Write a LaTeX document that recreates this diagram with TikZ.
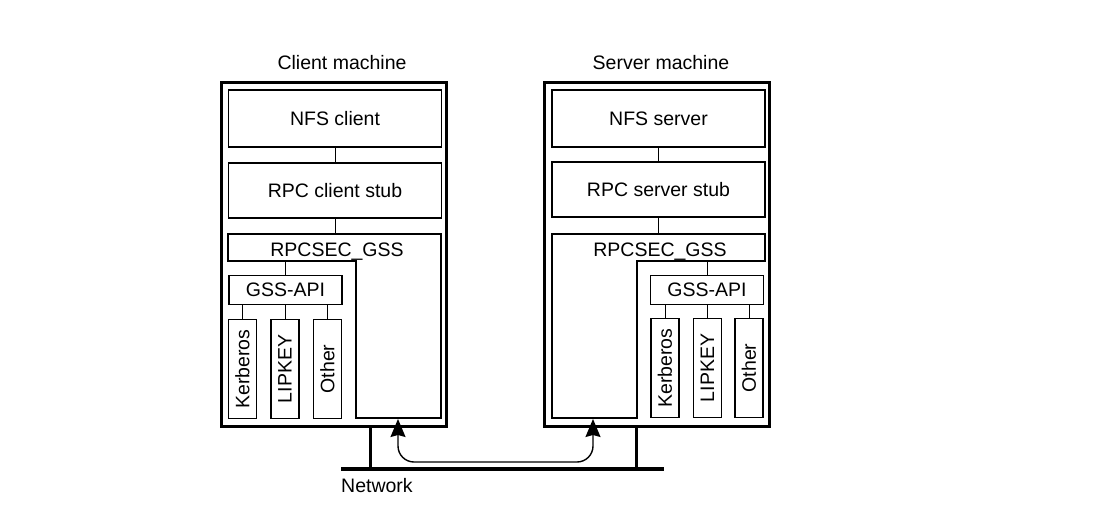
\documentclass[tikz,border=0pt]{standalone}
\usepackage{fontspec}
\setmainfont{Liberation Sans}
\usetikzlibrary{arrows.meta,calc}
\begin{document}
\begin{tikzpicture}[x=1pt,y=-1pt,
  every node/.style={font=\fontsize{19.5}{22}\selectfont, inner sep=0pt},
  outerbox/.style={draw, line width=2.8pt, minimum width=225pt, minimum height=344pt},
  layerbox/.style={draw, line width=1.2pt, minimum width=213pt},
  gssbox/.style={draw, line width=1.2pt, minimum width=113pt, minimum height=29pt},
  mechbox/.style={draw, line width=1.2pt, rotate=90, minimum width=99pt, minimum height=28pt},
  secshape/.style={draw, line width=1.2pt},
  link/.style={line width=1pt},
  netline/.style={line width=3.6pt},
  stubline/.style={line width=3pt},
  flow/.style={line width=1.4pt, rounded corners=16pt, {Stealth[length=18pt,width=15pt,inset=2pt]}-{Stealth[length=18pt,width=15pt,inset=2pt]}}
]
\useasboundingbox (0,0) rectangle (1114,525);

% ---------- Client machine ----------
\node (cmlabel) at (342,63) {Client machine};
\node[outerbox] (cm) at (334,254.5) {};
\node[layerbox, minimum height=57pt] (nfsc) at (335,118.5) {NFS client};
\node[layerbox, minimum height=55pt] (rpcc) at (335,190.5) {RPC client stub};
\draw[secshape] (228,234) -- (441,234) -- (441,418) -- (356,418) -- (356,261) -- (228,261) -- cycle;
\node[minimum width=213pt, minimum height=27pt] (secc) at (337,252) {RPCSEC\_GSS};
\node[gssbox] (gssc) at (285.5,290) {GSS-API};
\node[mechbox] (kerc) at (242.5,369) {Kerberos};
\node[mechbox] (lipc) at (285,369) {LIPKEY};
\node[mechbox] (othc) at (327.5,369) {Other};
\draw[link] (nfsc.south) -- (rpcc.north);
\draw[link] (rpcc.south) -- (rpcc.south |- 0,234);
\draw[link] (gssc.north) -- (gssc.north |- 0,261);
\draw[link] (kerc.east) -- (kerc.east |- gssc.south);
\draw[link] (lipc.east) -- (lipc.east |- gssc.south);
\draw[link] (othc.east) -- (othc.east |- gssc.south);

% ---------- Server machine ----------
\node (smlabel) at (661,63) {Server machine};
\node[outerbox] (sm) at (657,254.5) {};
\node[layerbox, minimum height=57pt] (nfss) at (658.5,118.5) {NFS server};
\node[layerbox, minimum height=55pt] (rpcs) at (658.5,189.5) {RPC server stub};
\draw[secshape] (552,234) -- (765,234) -- (765,261) -- (637,261) -- (637,418) -- (552,418) -- cycle;
\node[minimum width=213pt, minimum height=27pt] (secs) at (660,252) {RPCSEC\_GSS};
\node[gssbox] (gsss) at (707,290) {GSS-API};
\node[mechbox] (kers) at (665,368) {Kerberos};
\node[mechbox] (lips) at (707.5,368) {LIPKEY};
\node[mechbox] (oths) at (749,368) {Other};
\draw[link] (nfss.south) -- (rpcs.north);
\draw[link] (rpcs.south) -- (rpcs.south |- 0,234);
\draw[link] (gsss.north) -- (gsss.north |- 0,261);
\draw[link] (kers.east) -- (kers.east |- gsss.south);
\draw[link] (lips.east) -- (lips.east |- gsss.south);
\draw[link] (oths.east) -- (oths.east |- gsss.south);

% ---------- Network ----------
\coordinate (netL) at (341,469);
\coordinate (netR) at (664,469);
\coordinate (stubC) at (370,469);
\coordinate (stubS) at (636,469);
\draw[netline] (netL) -- (netR);
\draw[stubline] (stubC |- cm.south) -- (stubC);
\draw[stubline] (stubS |- sm.south) -- (stubS);
\node[anchor=west] (netlabel) at (341,486) {Network};

\coordinate (arrC) at (398,419);
\coordinate (arrS) at (593,419);
\draw[flow] (arrC) -- (398,462) -- (593,462) -- (arrS);
\end{tikzpicture}
\end{document}
